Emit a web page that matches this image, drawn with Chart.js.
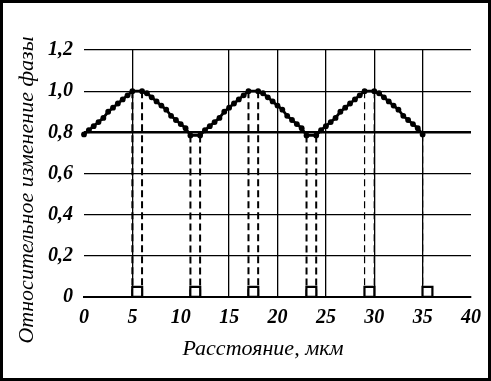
<!DOCTYPE html>
<html>
<head>
<meta charset="utf-8">
<script src="https://cdn.jsdelivr.net/npm/chart.js@4.4.1/dist/chart.umd.min.js"></script>
<style>
  html, body { margin: 0; padding: 0; background: #ffffff; }
  canvas { display: block; }
</style>
</head>
<body>
<canvas id="c" width="491" height="381"></canvas>
<script>
// Distance along the sample, µm
const distance = [
  0, 0.5, 1, 1.5, 2, 2.5, 3, 3.5, 4, 4.5, 5,
  6, 6.5, 7, 7.5, 8, 8.5, 9, 9.5, 10, 10.5, 11,
  12, 12.5, 13, 13.5, 14, 14.5, 15, 15.5, 16, 16.5, 17,
  18, 18.5, 19, 19.5, 20, 20.5, 21, 21.5, 22, 22.5, 23,
  24, 24.5, 25, 25.5, 26, 26.5, 27, 27.5, 28, 28.5, 29,
  30, 30.5, 31, 31.5, 32, 32.5, 33, 33.5, 34, 34.5, 35
];
// Relative phase change
const phase = [
  0.79, 0.81, 0.83, 0.85, 0.87, 0.90, 0.92, 0.94, 0.96, 0.98, 1.00,
  1.00, 0.99, 0.97, 0.95, 0.93, 0.91, 0.88, 0.86, 0.84, 0.82, 0.785,
  0.785, 0.81, 0.83, 0.85, 0.87, 0.90, 0.92, 0.94, 0.96, 0.98, 1.00,
  1.00, 0.99, 0.97, 0.95, 0.93, 0.91, 0.88, 0.86, 0.84, 0.82, 0.785,
  0.785, 0.81, 0.83, 0.85, 0.87, 0.90, 0.92, 0.94, 0.96, 0.98, 1.00,
  1.00, 0.99, 0.97, 0.95, 0.93, 0.91, 0.88, 0.86, 0.84, 0.82, 0.79
];
// Vertical drop lines (dashed)
const dropXThick = [5, 6, 11, 12, 17, 18, 23, 24];
const dropYThick = [1.00, 1.00, 0.785, 0.785, 1.00, 1.00, 0.785, 0.785];
const dropXThin = [29, 30, 35];
const dropYThin = [1.00, 1.00, 0.79];
// Square markers on the baseline
const markerX = [5.5, 11.5, 17.5, 23.5, 29.5, 35.5];
const markerY = [0.025, 0.025, 0.025, 0.025, 0.025, 0.025];
// Axis texts
const xTitle = 'Расстояние, мкм';
const yTitle = 'Относительное изменение фазы';
const hiddenXGrid = [0, 10, 40];

const FONT = "'Liberation Serif', 'DejaVu Serif', serif";

const datasets = [];
dropXThick.forEach((x, i) => {
  datasets.push({
    data: [{x: x, y: dropYThick[i]}, {x: x, y: 0}],
    borderColor: '#000', borderWidth: 2, borderDash: [7, 4],
    pointRadius: 0, showLine: true, clip: false, order: 3
  });
});
dropXThin.forEach((x, i) => {
  datasets.push({
    data: [{x: x, y: dropYThin[i]}, {x: x, y: 0}],
    borderColor: '#000', borderWidth: 1.2, borderDash: [7, 4],
    pointRadius: 0, showLine: true, clip: false, order: 3
  });
});
datasets.push({
  data: distance.map((x, i) => ({x: x, y: phase[i]})),
  borderColor: '#000', borderWidth: 2.8,
  pointRadius: 2.9, pointBackgroundColor: '#000', pointBorderColor: '#000', pointBorderWidth: 0,
  showLine: true, clip: false, order: 2
});
datasets.push({
  data: markerX.map((x, i) => ({x: x, y: markerY[i]})),
  showLine: false, pointStyle: 'rect', pointRadius: 7,
  pointBackgroundColor: '#fff', pointBorderColor: '#000', pointBorderWidth: 2.2,
  clip: false, order: 1
});

const framePlugin = {
  id: 'frame',
  afterDraw(chart) {
    const ctx = chart.ctx;
    ctx.save();
    ctx.fillStyle = '#000';
    ctx.textAlign = 'center';
    ctx.textBaseline = 'middle';
    ctx.font = "italic 22px " + FONT;
    ctx.fillText(xTitle, 263, 349);
    ctx.translate(27, 190);
    ctx.rotate(-Math.PI / 2);
    ctx.font = "italic 22px " + FONT;
    ctx.fillText(yTitle, 0, 0);
    ctx.restore();
    ctx.save();
    ctx.strokeStyle = '#000';
    ctx.lineWidth = 3;
    ctx.strokeRect(1.5, 1.5, chart.width - 3, chart.height - 3);
    ctx.restore();
  }
};

new Chart(document.getElementById('c'), {
  type: 'scatter',
  data: { datasets },
  options: {
    responsive: false,
    animation: false,
    devicePixelRatio: 1,
    layout: { padding: { left: 0, right: 20, top: 50, bottom: 0 } },
    plugins: { legend: { display: false }, tooltip: { enabled: false } },
    scales: {
      x: {
        type: 'linear', min: 0, max: 40,
        afterFit(s) { s.height = 84; },
        ticks: {
          stepSize: 5, color: '#000', padding: 9,
          font: { family: FONT, size: 20, style: 'italic', weight: 'bold' }
        },
        grid: {
          drawTicks: false,
          color: (c) => (c.tick && hiddenXGrid.includes(c.tick.value)) ? 'rgba(0,0,0,0)' : '#000',
          lineWidth: 1.3
        },
        border: { display: true, color: '#000', width: 2 }
      },
      y: {
        min: 0, max: 1.2,
        afterFit(s) { s.width = 84; },
        ticks: {
          stepSize: 0.2, color: '#000', padding: 11,
          font: { family: FONT, size: 20, style: 'italic', weight: 'bold' },
          callback: (v) => v === 0 ? '0' : v.toFixed(1).replace('.', ',')
        },
        grid: {
          drawTicks: false,
          color: '#000',
          lineWidth: (c) => (c.tick && Math.abs(c.tick.value - 0.8) < 1e-6) ? 2.5 : 1.3
        },
        border: { display: false }
      }
    }
  },
  plugins: [framePlugin]
});
</script>
</body>
</html>
